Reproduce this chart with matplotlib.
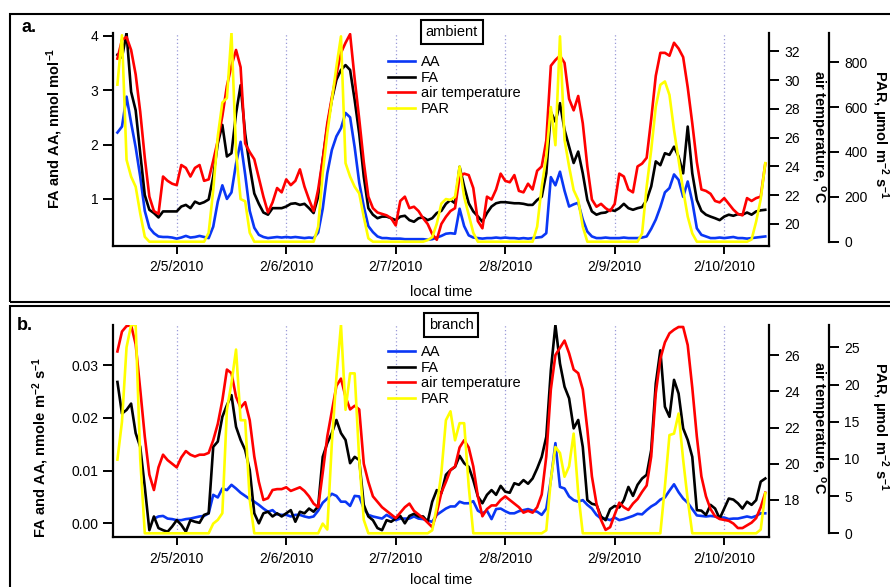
import matplotlib
matplotlib.use("Agg")
import matplotlib.pyplot as plt
import matplotlib.dates as mdates
from matplotlib.ticker import FuncFormatter, FixedLocator
from matplotlib.patches import Rectangle
import numpy as np
import pandas as pd

plt.rcParams['font.family'] = ['Liberation Sans', 'DejaVu Sans']
plt.rcParams['mathtext.default'] = 'regular'

# ---------------- data (hourly, 2/4/2010 11:00 .. 2/10/2010 09:00) ----------------
times = pd.date_range("2010-02-04 11:00", periods=143, freq="h")
nan = np.nan

# panel a: ambient
aa_ambient = [2.22, 2.33, 2.88, 2.4, 1.95, 1.41, 0.78, 0.47, 0.37, 0.31, 0.30, 0.30, 0.29,
              0.27, 0.29, 0.32, 0.29, 0.30, 0.32, 0.30, 0.28, 0.49, 0.95, 1.25, 1.0, 1.12, 1.65, 2.05, 1.45, 0.78, 0.47, 0.34, 0.30, 0.28, 0.29, 0.30, 0.29,
              0.30, 0.29, 0.30, 0.29, 0.28, 0.29, 0.28, 0.38, 0.82, 1.47, 1.9, 2.15, 2.3, 2.58, 2.5, 1.95, 1.3, 0.86, 0.5, 0.39, 0.31, 0.28, 0.28, 0.27,
              0.27, 0.27, 0.26, 0.26, 0.26, 0.26, 0.26, 0.25, 0.26, 0.29, 0.32, 0.36, 0.37, 0.36, 0.82, 0.5, 0.33, 0.29, 0.28, 0.27, 0.28, 0.28, 0.29, 0.28,
              0.29, 0.28, 0.28, 0.27, 0.28, 0.27, 0.28, 0.29, 0.30, 0.37, 1.4, 1.25, 1.5, 1.15, 0.86, 0.9, 0.93, 0.62, 0.4, 0.31, 0.28, 0.28, 0.29, 0.28,
              0.28, 0.28, 0.29, 0.28, 0.28, 0.28, 0.29, 0.31, 0.45, 0.62, 0.85, 1.12, 1.2, 1.45, 1.35, 1.04, 1.32, 0.95, 0.46, 0.34, 0.31, 0.28, 0.28, 0.29,
              0.28, 0.29, 0.30, 0.28, 0.28, 0.27, 0.28, 0.29, 0.30, 0.31]
fa_ambient = [3.65, 3.6, 4.05, 2.97, 2.63, 1.84, 1.07, 0.80, 0.74, 0.66, 0.77, 0.77, 0.77,
              0.77, 0.86, 0.89, 0.83, 0.95, 0.91, 0.94, 0.99, 1.41, 2.02, 2.36, 1.78, 1.84, 2.57, 3.09, 2.2, 1.6, 1.1, 0.91, 0.75, 0.71, 0.83, 0.83, 0.83,
              0.86, 0.91, 0.92, 0.89, 0.91, 0.83, 0.74, 1.04, 1.72, 2.33, 2.82, 3.19, 3.37, 3.46, 3.37, 2.82, 2.2, 1.41, 0.83, 0.71, 0.645, 0.675, 0.675, 0.645,
              0.61, 0.675, 0.69, 0.61, 0.58, 0.645, 0.66, 0.61, 0.645, 0.74, 0.78, 0.91, 0.98, 0.92, 1.59, 1.23, 0.92, 0.77, 0.68, 0.58, 0.74, 0.86, 0.92, 0.94,
              0.94, 0.93, 0.92, 0.92, 0.91, 0.89, 0.89, 0.98, 1.04, 1.47, 2.6, 2.42, 2.76, 2.27, 1.96, 1.66, 1.87, 1.47, 0.98, 0.77, 0.71, 0.74, 0.75, 0.80,
              0.78, 0.83, 0.91, 0.83, 0.80, 0.83, 0.85, 0.98, 1.23, 1.69, 1.62, 1.84, 1.81, 1.96, 1.78, 1.47, 2.33, 1.47, 0.98, 0.78, 0.71, 0.675, 0.645, 0.61,
              0.675, 0.71, 0.69, 0.72, 0.71, 0.75, 0.71, 0.77, 0.79, 0.8]
temp_ambient = [31.5, 32.8, 33.0, 32.1, 30.4, 27.8, 24.6, 21.9, 20.9, 20.7, 23.3, 23.0, 22.8,
                22.7, 24.1, 23.9, 23.3, 23.9, 24.1, 23.0, 23.1, 24.4, 25.8, 27.5, 29.6, 31.0, 32.1, 30.9, 25.6, 25.0, 24.5, 23.2, 21.9, 20.8, 21.5, 22.5, 22.2,
                23.1, 22.7, 23.0, 23.8, 22.6, 21.7, 20.9, 22.4, 24.5, 27.0, 28.8, 30.4, 31.9, 32.6, 33.2, 30.1, 27.3, 24.3, 21.9, 21.1, 20.8, 20.7, 20.6, 20.4,
                19.9, 21.6, 21.9, 21.1, 21.2, 20.9, 20.4, 20.0, 19.3, 18.9, 20.0, 20.5, 20.9, 21.1, 23.3, 23.5, 23.4, 22.5, 20.2, 19.7, 21.9, 21.7, 22.4, 23.5,
                23.0, 22.9, 23.4, 22.3, 22.2, 22.8, 22.4, 23.7, 24.0, 25.8, 31.0, 31.4, 31.7, 31.2, 28.7, 27.9, 28.9, 27.0, 24.0, 21.7, 21.2, 21.4, 21.1, 20.9,
                21.4, 23.5, 23.3, 22.4, 22.2, 24.0, 24.2, 24.6, 27.3, 30.3, 31.9, 31.9, 31.7, 32.6, 32.2, 31.6, 29.5, 27.0, 24.3, 22.4, 22.3, 22.1, 21.6, 21.5,
                21.8, 21.4, 21.0, 20.7, 20.6, 21.8, 21.6, 21.8, 21.9, 24.2]
par_ambient = [700, 920, 365, 290, 245, 126, 22, 0, 0, 0, 0, 0, 0,
               0, 0, 0, 0, 0, 0, 0, 40, 230, 470, 620, 640, 930, 400, 190, 180, 40, 0, 0, 0, 0, 0, 0, 0,
               0, 0, 0, 0, 0, 0, 0, 67, 305, 483, 632, 780, 915, 350, 290, 245, 215, 110, 15, 0, 0, 0, 0, 0,
               0, 0, 0, 0, 0, 0, 0, 7, 20, 80, 170, 190, 186, 200, 335, 200, 120, 40, 0, 0, 0, 0, 0, 0,
               0, 0, 0, 0, 0, 0, 0, 67, 245, 380, 600, 430, 915, 454, 335, 230, 186, 67, 0, 0, 0, 0, 0, 0,
               0, 0, 0, 0, 0, 0, 37, 245, 409, 602, 699, 714, 654, 498, 364, 230, 112, 37, 0, 0, 0, 0, 0, 0,
               0, 0, 0, 0, 0, 0, 10, 90, 190, 350]

# panel b: branch
aa_branch = [nan, nan, nan, nan, nan, nan, nan, nan, 0.0009, 0.0013, 0.0014, 0.0009, 0.0008,
             0.0006, 0.0006, 0.0008, 0.0009, 0.0011, 0.0013, 0.0014, 0.0019, 0.0054, 0.0049, 0.0066, 0.0063, 0.0073, 0.0066, 0.0058, 0.0052, 0.0046, 0.0041, 0.0035, 0.0028, 0.0022, 0.0025, 0.0017, 0.0016,
             0.0016, 0.0013, 0.0016, 0.0016, 0.0013, 0.0011, 0.0013, 0.0024, 0.0039, 0.0047, 0.0056, 0.0052, 0.0041, 0.0041, 0.0033, 0.0052, 0.0051, 0.0028, 0.0016, 0.0013, 0.0011, 0.0009, 0.0016, 0.0011,
             0.0006, 0.0009, 0.0009, 0.0009, 0.0013, 0.0009, 0.0008, 0.0005, 0.0003, 0.0016, 0.0022, 0.0028, 0.0032, 0.0032, 0.0041, 0.0038, 0.0038, 0.0042, 0.0024, 0.0019, 0.0024, 0.0008, 0.0027, 0.0028,
             0.0023, 0.0019, 0.0019, 0.0023, 0.0025, 0.0027, 0.0024, 0.0022, 0.0016, 0.0028, 0.0082, 0.0152, 0.0069, 0.0066, 0.0051, 0.0044, 0.0041, 0.0044, 0.0035, 0.0028, 0.0016, 0.0009, 0.0009, 0.0006,
             0.0011, 0.0006, 0.0008, 0.0011, 0.0014, 0.0018, 0.0017, 0.0025, 0.0032, 0.0037, 0.0045, 0.0049, 0.0062, 0.0074, 0.0059, 0.0047, 0.0039, 0.0027, 0.0015, 0.0014, 0.0013, 0.0014, 0.0013, 0.0011,
             0.0011, 0.0008, 0.0009, 0.0009, 0.0011, 0.0013, 0.0011, 0.0014, 0.0019, 0.0019]
fa_branch = [0.0268, 0.0208, 0.0215, 0.0227, 0.0171, 0.0145, 0.0069, -0.0013, 0.0013, -0.0009, -0.0013, -0.0016, -0.0006,
             0.0006, -0.0003, -0.0016, 0.0006, 0.0003, 0.0001, 0.0016, 0.0019, 0.0145, 0.0155, 0.0202, 0.0224, 0.0243, 0.0183, 0.0158, 0.0139, 0.0101, 0.0019, 0.0, 0.0019, 0.0022, 0.0013, 0.0019, 0.0013,
             0.0019, 0.0025, 0.0003, 0.0022, 0.0019, 0.0028, 0.0022, 0.0032, 0.0126, 0.0152, 0.0171, 0.0196, 0.0171, 0.0158, 0.0114, 0.0126, 0.012, 0.0035, 0.0013, 0.0006, -0.0009, -0.0013, 0.0006, 0.0003,
             0.0009, 0.0014, 0.0, 0.0014, 0.0018, 0.0013, 0.0013, 0.0003, 0.0041, 0.0063, 0.0057, 0.0092, 0.0101, 0.0107, 0.0128, 0.0114, 0.0107, 0.0082, 0.0051, 0.0038, 0.0054, 0.0063, 0.0054, 0.0071,
             0.006, 0.0058, 0.0076, 0.0073, 0.0082, 0.0075, 0.0085, 0.0104, 0.0126, 0.0164, 0.0290, 0.0376, 0.0303, 0.0259, 0.0237, 0.018, 0.0196, 0.0145, 0.0044, 0.0037, 0.0035, 0.0013, 0.0006, 0.0027,
             0.0033, 0.003, 0.0044, 0.0069, 0.0052, 0.0073, 0.0085, 0.0092, 0.0139, 0.0265, 0.0328, 0.0221, 0.0202, 0.0272, 0.0246, 0.018, 0.0158, 0.0126, 0.0025, 0.0024, 0.0016, 0.0035, 0.0028, 0.0009,
             0.0028, 0.0047, 0.0045, 0.0038, 0.0028, 0.0041, 0.0035, 0.0044, 0.0079, 0.0085]
temp_branch = [26.2, 27.3, 27.6, 27.65, 26.6, 24.1, 21.5, 19.4, 18.55, 19.8, 20.5, 20.2, 20.0,
               19.8, 20.35, 20.7, 20.5, 20.4, 20.5, 20.5, 20.6, 21.3, 22.2, 23.5, 25.2, 25.0, 23.7, 23.1, 23.4, 22.4, 20.4, 19.0, 18.0, 18.1, 18.55, 18.6, 18.6,
               18.7, 18.5, 18.6, 18.7, 18.5, 18.2, 17.8, 17.6, 19.5, 21.5, 22.9, 24.3, 24.7, 23.7, 23.0, 23.2, 23.0, 20.0, 19.0, 18.2, 17.9, 17.6, 17.4, 17.2,
               17.0, 17.3, 17.6, 17.8, 17.4, 17.2, 17.0, 16.75, 16.5, 17.3, 18.4, 19.0, 19.65, 19.85, 20.9, 21.3, 20.9, 19.85, 18.2, 17.1, 17.5, 17.7, 17.7, 18.0,
               18.2, 18.0, 17.8, 17.6, 17.3, 17.4, 17.3, 17.6, 18.3, 20.4, 24.1, 26.0, 26.4, 26.8, 26.1, 25.2, 25.0, 24.1, 21.9, 19.3, 17.8, 16.9, 16.35, 16.5,
               17.2, 17.85, 17.6, 17.45, 17.8, 18.05, 18.45, 18.8, 20.4, 23.9, 25.8, 26.7, 27.2, 27.4, 27.55, 27.55, 26.55, 24.2, 21.5, 19.3, 18.2, 17.5, 17.1, 16.95,
               16.9, 16.85, 16.7, 16.45, 16.45, 16.6, 16.75, 17.0, 17.6, 18.4]
par_branch = [9.9, 15.0, 25.0, 28.0, 28.0, 10.0, 0, 0, 0, 0, 0, 0, 0,
              0, 0, 0, 0, 0, 0, 0, 0, 1.3, 1.8, 2.7, 16.6, 20.2, 24.7, 15.2, 15.2, 4.5, 0, 0, 0, 0, 0, 0, 0,
              0, 0, 0, 0, 0, 0, 0, 0, 1.3, 0.5, 12.1, 21.0, 28.0, 16.6, 21.5, 21.5, 9.9, 1.8, 0, 0, 0, 0, 0, 0,
              0, 0, 0, 0, 0, 0, 0, 0, 0.4, 3.6, 8.1, 15.2, 16.4, 12.5, 14.8, 14.8, 6.3, 0, 0, 0, 0, 0, 0, 0,
              0, 0, 0, 0, 0, 0, 0, 0, 0, 0.4, 7.2, 11.6, 10.8, 7.6, 9.0, 13.4, 5.4, 0, 0, 0, 0, 0, 0, 0,
              0, 0, 0, 0, 0, 0, 0, 0, 0, 0, 0, 6.3, 13.2, 13.4, 16.1, 9.9, 4.5, 0, 0, 0, 0, 0, 0, 0,
              0, 0, 0, 0, 0, 0, 0, 0, 0.5, 5.4]

series_labels = ["AA", "FA", "air temperature", "PAR"]

# ---------------- layout ----------------
W, H = 890, 587
fig = plt.figure(figsize=(8.9, 5.87), dpi=100)


def fx(x):
    return x / W


def fy(y):
    return 1 - y / H


C_AA, C_FA, C_T, C_P = "#0a37f5", "#000000", "#ff0000", "#ffff00"
LW = 1.9
base = pd.Timestamp("2010-02-05")
xlim = (base + pd.Timedelta(days=-0.582), base + pd.Timedelta(days=5.409))

# panel frames
fig.add_artist(Rectangle((fx(10), fy(301.5)), fx(905) - fx(10), fy(14) - fy(301.5),
                         transform=fig.transFigure, fill=False, lw=1.5, ec="black"))
fig.add_artist(Rectangle((fx(10), fy(600)), fx(905) - fx(10), fy(305.7) - fy(600),
                         transform=fig.transFigure, fill=False, lw=1.5, ec="black"))

date_fmt = FuncFormatter(lambda v, p: "{0.month}/{0.day}/{0.year}".format(mdates.num2date(v)))


def build(top_px, bot_px, aa, fa, temp, par, ylL, ticksL, fmtL, ylT, ticksT, ylP, ticksP):
    ax = fig.add_axes([fx(113), fy(bot_px), fx(769) - fx(113), fy(top_px) - fy(bot_px)])
    axT = ax.twinx()
    axP = ax.twinx()
    l1, = ax.plot(times, aa, color=C_AA, lw=LW)
    l2, = ax.plot(times, fa, color=C_FA, lw=LW)
    l3, = axT.plot(times, temp, color=C_T, lw=LW)
    l4, = axP.plot(times, par, color=C_P, lw=LW)
    ax.set_xlim(*xlim)
    ax.set_ylim(*ylL)
    axT.set_ylim(*ylT)
    axP.set_ylim(*ylP)
    ax.yaxis.set_major_locator(FixedLocator(ticksL))
    ax.yaxis.set_major_formatter(FuncFormatter(fmtL))
    axT.yaxis.set_major_locator(FixedLocator(ticksT))
    axP.yaxis.set_major_locator(FixedLocator(ticksP))
    ax.xaxis.set_major_locator(mdates.DayLocator())
    ax.xaxis.set_major_formatter(date_fmt)
    ax.grid(True, axis="x", color="#9a9ad8", ls=(0, (1, 2)), lw=0.9)
    ax.spines["top"].set_visible(False)
    ax.spines["right"].set_visible(False)
    for a in (axT, axP):
        for s in ("top", "left", "bottom"):
            a.spines[s].set_visible(False)
    axP.spines["right"].set_position(("axes", 1 + 60 / 656))
    axP.spines["right"].set_bounds(0, ylP[1])
    for sp in (ax.spines["left"], ax.spines["bottom"], axT.spines["right"], axP.spines["right"]):
        sp.set_linewidth(1.6)
    ax.tick_params(axis="both", direction="out", length=7, width=1.4, labelsize=10, pad=3.5)
    ax.tick_params(axis="x", length=6, pad=4.5)
    for a in (axT, axP):
        a.tick_params(axis="y", direction="out", length=7, width=1.4, labelsize=10, pad=4)
    return ax, [l1, l2, l3, l4]


axa, handles_a = build(33, 245.7, aa_ambient, fa_ambient, temp_ambient, par_ambient,
                       (0.14, 4.05), [1, 2, 3, 4], lambda v, p: "%d" % v,
                       (18.49, 33.28), [20, 22, 24, 26, 28, 30, 32],
                       (-17.8, 930), [0, 200, 400, 600, 800])
axb, handles_b = build(325, 537.3, aa_branch, fa_branch, temp_branch, par_branch,
                       (-0.00265, 0.0376), [0.0, 0.01, 0.02, 0.03], lambda v, p: "%.2f" % v,
                       (15.94, 27.66), [18, 20, 22, 24, 26],
                       (-0.54, 28.0), [0, 5, 10, 15, 20, 25])

# legends
for handles, ytop in ((handles_a, 55), (handles_b, 345)):
    fig.legend(handles, series_labels, loc="upper left", bbox_to_anchor=(fx(388), fy(ytop)),
               frameon=False, borderpad=0, borderaxespad=0, handlelength=1.85,
               handletextpad=0.4, labelspacing=0.12, fontsize=10.5)

# panel titles in boxes
for txt, xc, yc in (("ambient", 452, 32), ("branch", 451, 325)):
    fig.text(fx(xc), fy(yc), txt, ha="center", va="center", fontsize=10.5,
             bbox=dict(boxstyle="square,pad=0.35", fc="white", ec="black", lw=1.5))

# panel letters
fig.text(fx(22), fy(28), "a.", fontsize=13, fontweight="bold", ha="left", va="center")
fig.text(fx(17), fy(325), "b.", fontsize=13, fontweight="bold", ha="left", va="center")

# x labels
fig.text(fx(441), fy(292.5), "local time", ha="center", va="center", fontsize=10.5)
fig.text(fx(441), fy(580), "local time", ha="center", va="center", fontsize=10.5)

# y labels
kw = dict(ha="center", va="center", fontsize=10.5, fontweight="bold")
fig.text(fx(55), fy(128), "FA and AA, nmol mol$^{-1}$", rotation=90, **kw)
fig.text(fx(41), fy(448), "FA and AA, nmole m$^{-2}$ s$^{-1}$", rotation=90, **kw)
fig.text(fx(817), fy(137), "air temperature, $^{o}$C", rotation=270, **kw)
fig.text(fx(817), fy(428), "air temperature, $^{o}$C", rotation=270, **kw)
fig.text(fx(880), fy(134), "PAR, \u03bcmol m$^{-2}$ s$^{-1}$", rotation=270, **kw)
fig.text(fx(880), fy(426), "PAR, \u03bcmol m$^{-2}$ s$^{-1}$", rotation=270, **kw)

fig.savefig("out.png", dpi=100)
